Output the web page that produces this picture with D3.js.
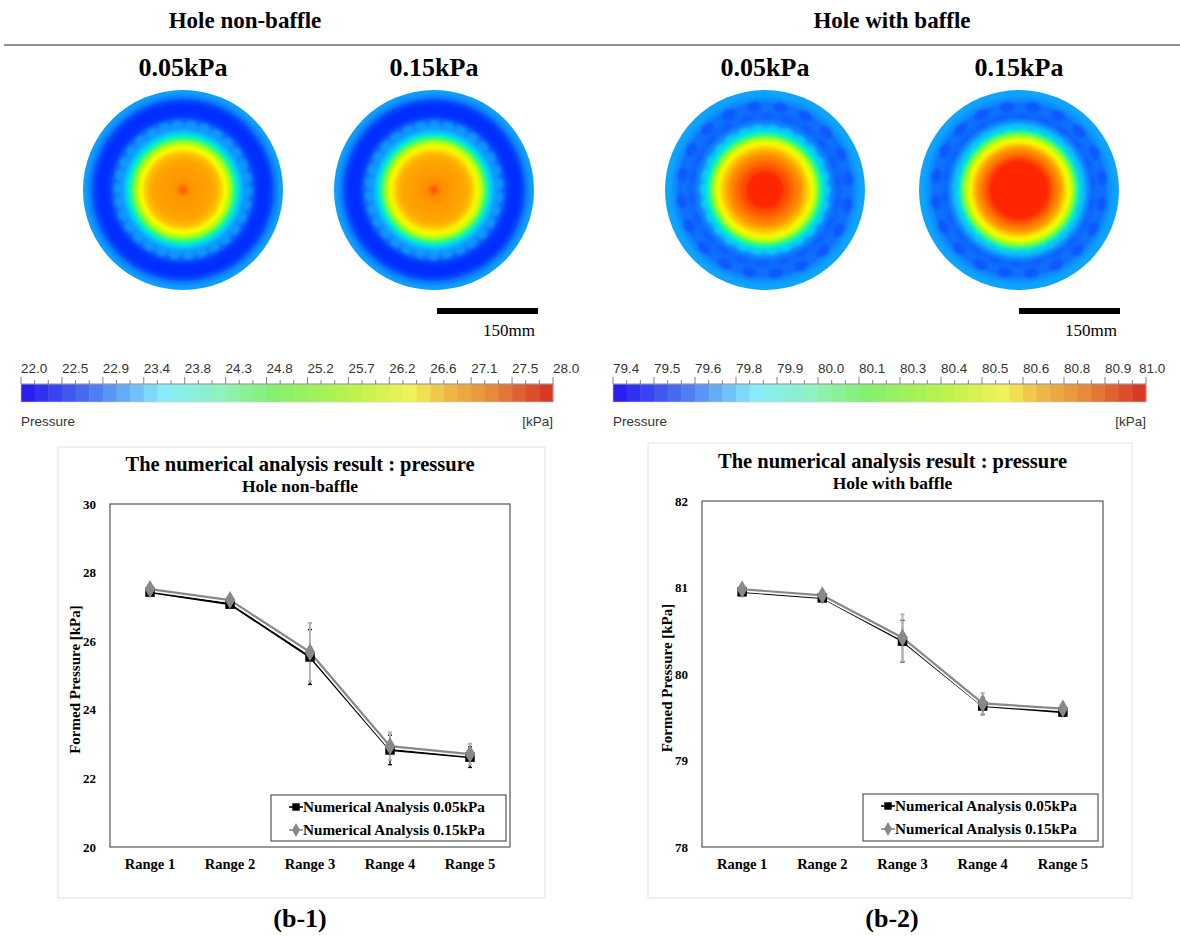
<!DOCTYPE html>
<html>
<head>
<meta charset="utf-8">
<script src="https://cdn.jsdelivr.net/npm/d3@7"></script>
<style>
  body { margin: 0; background: #fff; }
  svg { display: block; }
  .serif { font-family: "Liberation Serif", "Times New Roman", serif; font-weight: bold; }
  .sans { font-family: "Liberation Sans", Arial, sans-serif; }
</style>
</head>
<body>
<svg id="fig" width="1180" height="936"></svg>
<script>
const svg = d3.select("#fig");

/*
/   Data
*/

const ranges = ["Range 1", "Range 2", "Range 3", "Range 4", "Range 5"];

// Hole non-baffle
const nbLow = [27.43, 27.08, 25.54, 22.83, 22.62];
const nbLowErr = [0.08, 0.10, 0.80, 0.43, 0.30];
const nbHigh = [27.52, 27.20, 25.68, 22.94, 22.71];
const nbHighErr = [0.08, 0.12, 0.85, 0.40, 0.30];
const nbTicks = [20, 22, 24, 26, 28, 30];

// Hole with baffle
const wbLow = [80.95, 80.88, 80.38, 79.63, 79.56];
const wbLowErr = [0.03, 0.03, 0.24, 0.10, 0.05];
const wbHigh = [80.98, 80.91, 80.42, 79.66, 79.60];
const wbHighErr = [0.03, 0.04, 0.27, 0.12, 0.06];
const wbTicks = [78, 79, 80, 81, 82];

// colour bar labels
const cbLeftTicks = ["22.0", "22.5", "22.9", "23.4", "23.8", "24.3", "24.8", "25.2", "25.7", "26.2", "26.6", "27.1", "27.5", "28.0"];
const cbRightTicks = ["79.4", "79.5", "79.6", "79.8", "79.9", "80.0", "80.1", "80.3", "80.4", "80.5", "80.6", "80.8", "80.9", "81.0"];

// contour rings: [radius fraction, level 0..1]
const ringsNb05 = [[1.00, 0.21], [0.95, 0.15], [0.91, 0.06], [0.87, 0.01], [0.76, 0.03], [0.72, 0.10], [0.67, 0.16],
  [0.62, 0.22], [0.58, 0.31], [0.55, 0.38], [0.52, 0.46], [0.49, 0.54], [0.46, 0.61], [0.43, 0.67], [0.40, 0.74],
  [0.36, 0.78], [0.31, 0.81], [0.24, 0.82], [0.15, 0.83], [0.08, 0.85], [0.045, 0.92]];
const ringsNb15 = [[1.00, 0.21], [0.95, 0.15], [0.91, 0.06], [0.87, 0.01], [0.76, 0.03], [0.72, 0.10], [0.67, 0.16],
  [0.62, 0.23], [0.58, 0.32], [0.55, 0.40], [0.52, 0.48], [0.49, 0.56], [0.46, 0.63], [0.43, 0.69], [0.40, 0.75],
  [0.36, 0.79], [0.31, 0.81], [0.24, 0.82], [0.15, 0.84], [0.08, 0.86], [0.045, 0.93]];
const ringsWb05 = [[1.00, 0.22], [0.93, 0.18], [0.88, 0.13], [0.78, 0.12], [0.70, 0.16], [0.65, 0.24], [0.61, 0.32],
  [0.58, 0.40], [0.55, 0.48], [0.52, 0.56], [0.49, 0.64], [0.46, 0.70], [0.43, 0.76], [0.39, 0.82], [0.35, 0.87],
  [0.30, 0.91], [0.25, 0.95], [0.19, 1.00]];
const ringsWb15 = [[1.00, 0.22], [0.93, 0.18], [0.88, 0.13], [0.78, 0.12], [0.71, 0.17], [0.67, 0.25], [0.63, 0.33],
  [0.60, 0.41], [0.57, 0.50], [0.54, 0.58], [0.51, 0.65], [0.48, 0.72], [0.45, 0.79], [0.42, 0.85], [0.38, 0.90],
  [0.34, 0.95], [0.30, 1.00]];

// bumpy texture: [radius fraction, count, level, blob size fraction]
const bumpsNb = [[0.65, 30, 0.20, 0.06]];
const bumpsWb = [[0.84, 20, 0.09, 0.075], [0.72, 22, 0.10, 0.06], [0.62, 26, 0.28, 0.05]];

/*
/   Colour scales
*/

const jetColors = ["#0028ff", "#0a64ff", "#10a4ff", "#00e4f0", "#10ff70", "#b4ff00", "#ffff00", "#ffb400", "#ff7800", "#ff2800"];
const jet = d3.scaleLinear()
  .domain(jetColors.map((d, i) => i / (jetColors.length - 1)))
  .range(jetColors)
  .interpolate(d3.interpolateRgb);

const cbColors = ["#2a1ef0", "#4f7cf0", "#88ecfa", "#8ef2c0", "#84f070", "#b8f24c", "#f2f25a", "#f0c048", "#e48838", "#d83a28"];
const cbPos = [0, 0.13, 0.26, 0.37, 0.47, 0.62, 0.74, 0.80, 0.90, 1];
const cbScale = d3.scaleLinear().domain(cbPos).range(cbColors).interpolate(d3.interpolateRgb);

const defs = svg.append("defs");
defs.append("filter").attr("id", "soft")
  .append("feGaussianBlur").attr("stdDeviation", 1.4);

/*
/   Headers
*/

svg.append("text").attr("class", "serif").attr("x", 245).attr("y", 28)
  .attr("text-anchor", "middle").attr("font-size", 23).text("Hole non-baffle");
svg.append("text").attr("class", "serif").attr("x", 892).attr("y", 28)
  .attr("text-anchor", "middle").attr("font-size", 23).text("Hole with baffle");
svg.append("line").attr("x1", 4).attr("x2", 1180).attr("y1", 45).attr("y2", 45)
  .attr("stroke", "#222").attr("stroke-width", 1);

/*
/   Contour plots
*/

const plots = [
  { cx: 183, label: "0.05kPa", rings: ringsNb05, bumps: bumpsNb },
  { cx: 434, label: "0.15kPa", rings: ringsNb15, bumps: bumpsNb },
  { cx: 765, label: "0.05kPa", rings: ringsWb05, bumps: bumpsWb },
  { cx: 1019, label: "0.15kPa", rings: ringsWb15, bumps: bumpsWb }
];
const cy = 190, R = 100;

plots.forEach((p, k) => {
  svg.append("text").attr("class", "serif").attr("x", p.cx).attr("y", 76)
    .attr("text-anchor", "middle").attr("font-size", 26).text(p.label);

  defs.append("clipPath").attr("id", "clip" + k)
    .append("circle").attr("cx", p.cx).attr("cy", cy).attr("r", R);

  const g = svg.append("g").attr("clip-path", `url(#clip${k})`)
    .append("g").attr("filter", "url(#soft)");

  g.append("circle").attr("cx", p.cx).attr("cy", cy).attr("r", R + 4)
    .attr("fill", jet(p.rings[0][1]));

  const drawRings = (list) => g.selectAll(null).data(list).join("circle")
    .attr("cx", p.cx).attr("cy", cy)
    .attr("r", d => d[0] * R)
    .attr("fill", d => jet(d[1]));

  const drawBumps = (b) => {
    const pts = d3.range(b[1]).map(i => {
      const a = (i / b[1]) * 2 * Math.PI + k * 0.3 + b[0];
      return [p.cx + Math.cos(a) * b[0] * R, cy + Math.sin(a) * b[0] * R];
    });
    g.selectAll(null).data(pts).join("ellipse")
      .attr("cx", d => d[0]).attr("cy", d => d[1])
      .attr("rx", b[3] * R).attr("ry", b[3] * R * 0.7)
      .attr("transform", d => `rotate(${Math.atan2(d[1] - cy, d[0] - p.cx) * 180 / Math.PI + 90},${d[0]},${d[1]})`)
      .attr("fill", jet(b[2]));
  };

  // rings from outside in, with the bump rows laid in where they belong
  p.rings.forEach((ring, i) => {
    drawRings([ring]);
    const next = p.rings[i + 1] ? p.rings[i + 1][0] : 0;
    p.bumps.filter(b => b[0] <= ring[0] && b[0] > next).forEach(drawBumps);
  });
});

// scale bars
[[437, 538], [1019, 1120]].forEach(([x0, x1]) => {
  svg.append("rect").attr("x", x0).attr("y", 308).attr("width", x1 - x0).attr("height", 6).attr("fill", "#000");
  svg.append("text").attr("x", x1 - 3).attr("y", 336).attr("text-anchor", "end")
    .attr("font-family", "Liberation Serif, serif").attr("font-size", 17).text("150mm");
});

/*
/   Colour bars
*/

function colorBar(x0, x1, labels, lastShift) {
  const nSeg = (labels.length - 1) * 3;
  const x = d3.scaleLinear().domain([0, nSeg]).range([x0, x1]);
  const g = svg.append("g").attr("class", "sans");

  g.selectAll("rect.seg").data(d3.range(nSeg)).join("rect")
    .attr("class", "seg")
    .attr("x", d => x(d)).attr("y", 384)
    .attr("width", x(1) - x(0) + 0.5).attr("height", 18)
    .attr("fill", d => cbScale(d / (nSeg - 1)));
  g.append("rect").attr("x", x0).attr("y", 384).attr("width", x1 - x0).attr("height", 18)
    .attr("fill", "none").attr("stroke", "#c8c8c8").attr("stroke-width", 0.6);

  g.append("line").attr("x1", x0).attr("x2", x1).attr("y1", 384).attr("y2", 384)
    .attr("stroke", "#888").attr("stroke-width", 0.8);
  g.selectAll("line.tick").data(d3.range(nSeg + 1)).join("line")
    .attr("class", "tick")
    .attr("x1", d => x(d)).attr("x2", d => x(d))
    .attr("y1", d => d % 3 === 0 ? 377 : 380).attr("y2", 384)
    .attr("stroke", "#666").attr("stroke-width", 0.8);

  g.selectAll("text.lab").data(labels).join("text")
    .attr("class", "lab")
    .attr("x", (d, i) => x(i * 3) + (i === labels.length - 1 ? lastShift : 0)).attr("y", 373)
    .attr("font-size", 13.5).attr("fill", "#333")
    .text(d => d);

  g.append("text").attr("x", x0).attr("y", 426).attr("font-size", 13.5).attr("fill", "#333").text("Pressure");
  g.append("text").attr("x", x1).attr("y", 426).attr("text-anchor", "end")
    .attr("font-size", 13.5).attr("fill", "#333").text("[kPa]");
}

colorBar(21, 553, cbLeftTicks, 0);
colorBar(613, 1146, cbRightTicks, -7);

/*
/   Line charts
*/

function lineChart(cfg) {
  const g = svg.append("g").attr("class", "serif");

  g.append("rect").attr("x", cfg.box[0]).attr("y", cfg.box[1])
    .attr("width", cfg.box[2] - cfg.box[0]).attr("height", cfg.box[3] - cfg.box[1])
    .attr("fill", "#fff").attr("stroke", "#e2e2e2").attr("stroke-width", 1);

  const x = d3.scaleBand().domain(ranges).range([cfg.left, cfg.right]).padding(0);
  const y = d3.scaleLinear().domain(d3.extent(cfg.ticks)).range([847, cfg.top]);
  const cx = d => x(d) + x.bandwidth() / 2;

  const mid = (cfg.left + cfg.right) / 2;
  g.append("text").attr("x", mid - 10).attr("y", cfg.top - 33).attr("text-anchor", "middle")
    .attr("font-size", 20.5).text("The numerical analysis result : pressure");
  g.append("text").attr("x", mid - 10).attr("y", cfg.top - 12).attr("text-anchor", "middle")
    .attr("font-size", 17.5).text(cfg.subtitle);

  // y axis
  const yAxis = d3.axisLeft(y).tickValues(cfg.ticks).tickSize(0).tickPadding(14).tickFormat(d3.format("d"));
  const ya = g.append("g").attr("transform", `translate(${cfg.left},0)`).call(yAxis)
    .attr("font-family", null).attr("font-size", 13);
  ya.select(".domain").remove();

  // x axis
  const xAxis = d3.axisBottom(x).tickSize(0).tickPadding(12);
  const xa = g.append("g").attr("transform", "translate(0,847)").call(xAxis)
    .attr("font-family", null).attr("font-size", 14.5);
  xa.select(".domain").remove();

  g.append("rect").attr("x", cfg.left).attr("y", cfg.top)
    .attr("width", cfg.right - cfg.left).attr("height", 847 - cfg.top)
    .attr("fill", "none").attr("stroke", "#555").attr("stroke-width", 1.2);

  g.append("text")
    .attr("transform", `translate(${cfg.left - 30},${(cfg.top + 847) / 2 + 4}) rotate(-90)`)
    .attr("text-anchor", "middle").attr("font-size", 15).text("Formed Pressure [kPa]");

  const series = [
    { values: cfg.low, err: cfg.lowErr, color: "#000", errColor: "#111", marker: "square" },
    { values: cfg.high, err: cfg.highErr, color: "#888", errColor: "#b4b4b4", marker: "diamond" }
  ];

  // error bars
  series.forEach(s => {
    const eb = g.append("g").attr("stroke", s.errColor).attr("stroke-width", s.marker === "square" ? 1.4 : 2);
    ranges.forEach((r, i) => {
      const lo = y(s.values[i] - s.err[i]), hi = y(s.values[i] + s.err[i]);
      eb.append("line").attr("x1", cx(r)).attr("x2", cx(r)).attr("y1", lo).attr("y2", hi);
      eb.append("line").attr("x1", cx(r) - 2).attr("x2", cx(r) + 2).attr("y1", lo).attr("y2", lo);
      eb.append("line").attr("x1", cx(r) - 2).attr("x2", cx(r) + 2).attr("y1", hi).attr("y2", hi);
    });
  });

  const line = d3.line().x((d, i) => cx(ranges[i])).y(d => y(d));

  series.forEach(s => {
    g.append("path").attr("d", line(s.values)).attr("fill", "none")
      .attr("stroke", "#fff").attr("stroke-width", 5.5);
    g.append("path").attr("d", line(s.values)).attr("fill", "none")
      .attr("stroke", s.color).attr("stroke-width", 2.2);
  });

  const sym = {
    square: d3.symbol().type(d3.symbolSquare).size(90),
    diamond: d3.symbol().type(d3.symbolDiamond).size(95)
  };
  series.forEach(s => {
    g.selectAll(null).data(s.values).join("path")
      .attr("transform", (d, i) => `translate(${cx(ranges[i])},${y(d)})`)
      .attr("d", sym[s.marker]())
      .attr("fill", s.color);
  });

  // legend
  const L = cfg.legend;
  g.append("rect").attr("x", L[0]).attr("y", L[1]).attr("width", L[2] - L[0]).attr("height", L[3] - L[1])
    .attr("fill", "#fff").attr("stroke", "#555").attr("stroke-width", 1.2);
  const labels = ["Numerical Analysis 0.05kPa", "Numerical Analysis 0.15kPa"];
  series.forEach((s, i) => {
    const ly = L[1] + 12 + i * 23;
    g.append("line").attr("x1", L[0] + 18).attr("x2", L[0] + 32).attr("y1", ly).attr("y2", ly)
      .attr("stroke", s.color).attr("stroke-width", 1.6);
    g.append("path").attr("transform", `translate(${L[0] + 25},${ly})`)
      .attr("d", d3.symbol().type(s.marker === "square" ? d3.symbolSquare : d3.symbolDiamond).size(55)())
      .attr("fill", s.color);
    g.append("text").attr("x", L[0] + 32).attr("y", ly + 5).attr("font-size", 15.2).text(labels[i]);
  });
}

lineChart({
  box: [58, 447, 545, 898], left: 110, right: 510, top: 504,
  ticks: nbTicks, subtitle: "Hole non-baffle",
  low: nbLow, lowErr: nbLowErr, high: nbHigh, highErr: nbHighErr,
  legend: [271, 795, 506, 841]
});

lineChart({
  box: [648, 443, 1132, 898], left: 702, right: 1103, top: 501,
  ticks: wbTicks, subtitle: "Hole with baffle",
  low: wbLow, lowErr: wbLowErr, high: wbHigh, highErr: wbHighErr,
  legend: [863, 794, 1098, 841]
});

svg.append("text").attr("class", "serif").attr("x", 300).attr("y", 927)
  .attr("text-anchor", "middle").attr("font-size", 26).text("(b-1)");
svg.append("text").attr("class", "serif").attr("x", 892).attr("y", 927)
  .attr("text-anchor", "middle").attr("font-size", 26).text("(b-2)");
</script>
</body>
</html>
